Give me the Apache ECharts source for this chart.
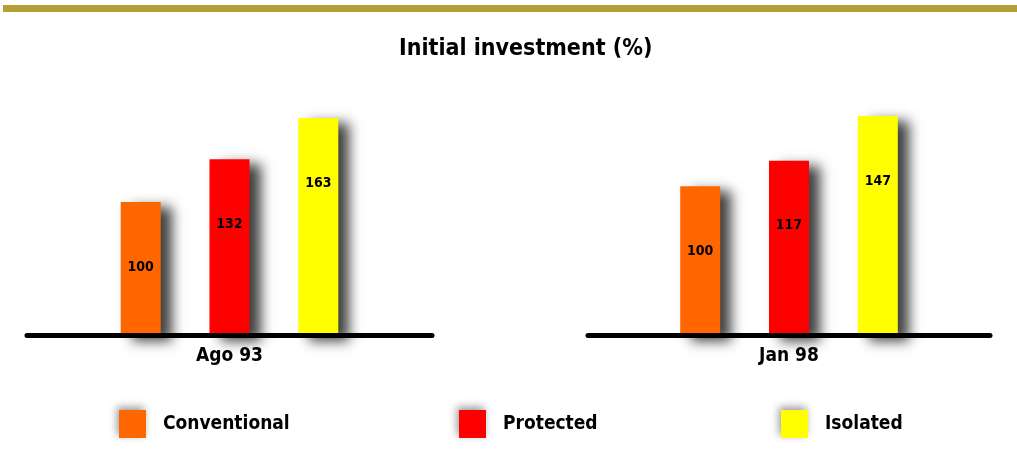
<!DOCTYPE html>
<html>
<head>
<meta charset="utf-8">
<script src="https://cdn.jsdelivr.net/npm/echarts@6/dist/echarts.min.js"></script>
<style>
html,body{margin:0;padding:0;background:#fff;}
#chart{width:1017px;height:459px;}
</style>
</head>
<body>
<div id="chart"></div>
<script>
const titleText = 'Initial investment (%)';
const groups = ['Ago 93', 'Jan 98'];
const seriesNames = ['Conventional', 'Protected', 'Isolated'];
const conventional = [100, 100];
const protectedVals = [132, 117];
const isolated = [163, 147];
const colors = ['#FF6600', '#FF0000', '#FFFF00'];

const FONT = "'Liberation Sans Narrow', 'DejaVu Sans Condensed', 'Arial Narrow', sans-serif";
const values = [conventional, protectedVals, isolated];

const grids = [
  { left: 27, width: 405, top: 118, bottom: 123.5 },
  { left: 588, width: 402, top: 116, bottom: 123.5 }
];

const xAxes = groups.map((g, gi) => ({
  type: 'category',
  gridIndex: gi,
  data: [g],
  z: 5,
  axisLine: { lineStyle: { color: '#000', width: 5 } },
  axisTick: { show: false },
  axisLabel: { color: '#000', fontSize: 19, fontWeight: 'bold', fontFamily: FONT, margin: 11 }
}));

const yAxes = groups.map((g, gi) => ({
  type: 'value',
  gridIndex: gi,
  min: 0,
  max: 'dataMax',
  show: false,
  splitLine: { show: false }
}));

const series = [];
groups.forEach((g, gi) => {
  seriesNames.forEach((name, si) => {
    series.push({
      type: 'bar',
      name: name,
      xAxisIndex: gi,
      yAxisIndex: gi,
      data: [values[si][gi]],
      barWidth: 40,
      barGap: '122%',
      itemStyle: {
        color: colors[si],
        shadowColor: 'rgba(0,0,0,0.75)',
        shadowBlur: 12,
        shadowOffsetX: 11,
        shadowOffsetY: 5
      },
      label: {
        show: true,
        position: 'insideTop',
        distance: 58,
        color: '#000',
        fontSize: 14,
        fontWeight: 'bold',
        fontFamily: FONT
      }
    });
  });
});

const legendLefts = [119, 459, 781];
const legends = seriesNames.map((name, i) => ({
  data: [name],
  left: legendLefts[i],
  top: 410,
  padding: 0,
  icon: 'rect',
  itemWidth: 27,
  itemHeight: 28,
  selectedMode: false,
  itemStyle: { shadowColor: 'rgba(0,0,0,0.4)', shadowBlur: 8, shadowOffsetX: -2, shadowOffsetY: -3 },
  textStyle: { color: '#000', fontSize: 19, fontWeight: 'bold', fontFamily: FONT, padding: [0, 0, 0, 12] }
}));

const chart = echarts.init(document.getElementById('chart'), null, { renderer: 'canvas' });
chart.setOption({
  backgroundColor: '#fff',
  animation: false,
  title: {
    text: titleText,
    left: 399,
    top: 38,
    padding: 0,
    textStyle: { color: '#000', fontSize: 23, fontWeight: 'bold', fontFamily: FONT }
  },
  graphic: [{
    type: 'rect',
    shape: { x: 3, y: 5, width: 1014, height: 7 },
    style: { fill: '#B3A034' },
    silent: true
  }],
  legend: legends,
  grid: grids,
  xAxis: xAxes,
  yAxis: yAxes,
  series: series
});
</script>
</body>
</html>
